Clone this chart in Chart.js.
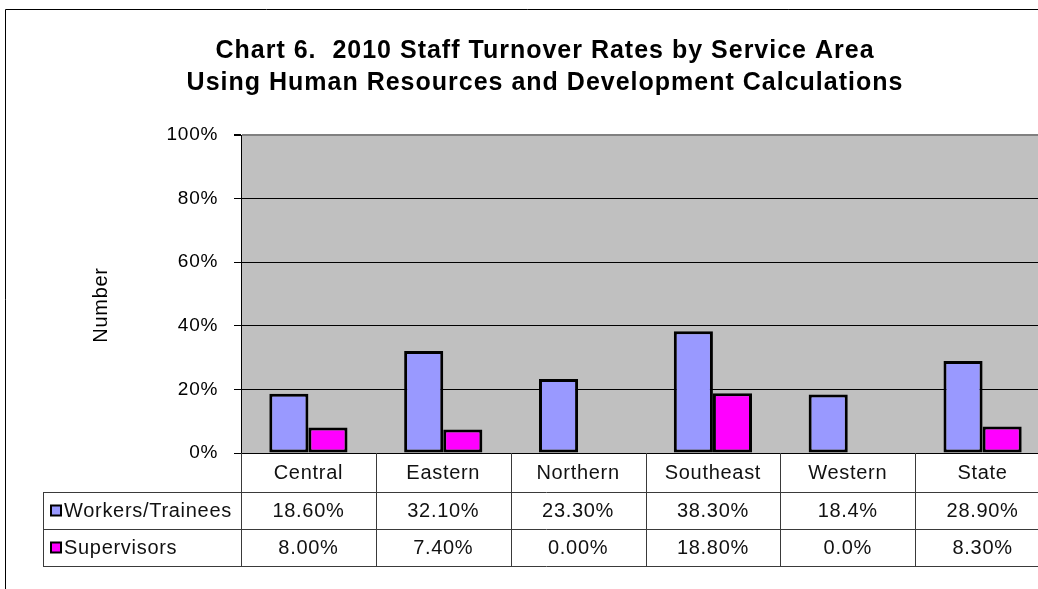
<!DOCTYPE html>
<html>
<head>
<meta charset="utf-8">
<style>
  html, body { margin: 0; padding: 0; background: #fff; overflow: hidden; }
  #chart { display: block; }
</style>
<script src="https://cdn.jsdelivr.net/npm/chart.js@4/dist/chart.umd.min.js"></script>
</head>
<body>
<canvas id="chart" width="1050" height="589"></canvas>
<script>
const titleLines = [
  "Chart 6.  2010 Staff Turnover Rates by Service Area",
  "Using Human Resources and Development Calculations",
];
const categories = ["Central", "Eastern", "Northern", "Southeast", "Western", "State"];
const workers = [18.6, 32.1, 23.3, 38.3, 18.4, 28.9];
const supervisors = [8.0, 7.4, 0, 18.8, 0, 8.3];
const workersText = ["18.60%", "32.10%", "23.30%", "38.30%", "18.4%", "28.90%"];
const supervisorsText = ["8.00%", "7.40%", "0.00%", "18.80%", "0.0%", "8.30%"];
const yTicks = [0, 20, 40, 60, 80, 100];
const yTitle = "Number";

const FONT = "'Liberation Sans', Arial, sans-serif";
const workerColor = "#9999FF";
const supervisorColor = "#FF00FF";

// background, title, outer frame and the data table under the plot
const decor = {
  id: "decor",
  beforeDraw(chart) {
    const { ctx, chartArea: a } = chart;
    ctx.letterSpacing = "0.7px";
    ctx.save();
    ctx.fillStyle = "#C0C0C0";
    ctx.fillRect(a.left, a.top, a.right - a.left, a.bottom - a.top);
    ctx.restore();
  },
  afterDraw(chart) {
    const { ctx, chartArea: a } = chart;
    const xs = chart.scales.x;
    ctx.save();

    // outer frame
    ctx.strokeStyle = "#000";
    ctx.lineWidth = 1;
    ctx.beginPath();
    ctx.moveTo(5.5, 589);
    ctx.lineTo(5.5, 9.5);
    ctx.lineTo(chart.width, 9.5);
    ctx.stroke();

    // title
    ctx.fillStyle = "#000";
    ctx.textAlign = "center";
    ctx.textBaseline = "middle";
    ctx.font = "bold 25px " + FONT;
    ctx.letterSpacing = "1px";
    ctx.fillText(titleLines[0], 545, 51);
    ctx.fillText(titleLines[1], 545, 83);

    // y axis title
    ctx.font = "20px " + FONT;
    ctx.letterSpacing = "0.7px";
    ctx.save();
    ctx.translate(101, 305);
    ctx.rotate(-Math.PI / 2);
    ctx.fillText(yTitle, 0, 0);
    ctx.restore();

    // data table
    const half = (xs.getPixelForValue(1) - xs.getPixelForValue(0)) / 2;
    const rowsY = [a.bottom, 492, 529, 566];
    const tableLeft = 43;
    ctx.strokeStyle = "#3a3a3a";
    ctx.lineWidth = 1;
    ctx.beginPath();
    for (let r = 1; r < rowsY.length; r++) {
      ctx.moveTo(tableLeft, rowsY[r] + 0.5);
      ctx.lineTo(chart.width, rowsY[r] + 0.5);
    }
    ctx.moveTo(tableLeft + 0.5, rowsY[1]);
    ctx.lineTo(tableLeft + 0.5, rowsY[3]);
    for (let i = 0; i <= categories.length; i++) {
      const x = Math.round(xs.getPixelForValue(i) - half) + 0.5;
      ctx.moveTo(x, rowsY[0]);
      ctx.lineTo(x, rowsY[3]);
    }
    ctx.stroke();

    ctx.fillStyle = "#111";
    ctx.textAlign = "center";
    categories.forEach((c, i) => {
      const x = xs.getPixelForValue(i);
      ctx.fillText(c, x, (rowsY[0] + rowsY[1]) / 2 + 1);
      ctx.fillText(workersText[i], x, (rowsY[1] + rowsY[2]) / 2 + 1);
      ctx.fillText(supervisorsText[i], x, (rowsY[2] + rowsY[3]) / 2 + 1);
    });

    // legend keys in the first column
    const series = [
      { label: chart.data.datasets[0].label, color: workerColor },
      { label: chart.data.datasets[1].label, color: supervisorColor },
    ];
    ctx.textAlign = "left";
    series.forEach((s, r) => {
      const cy = (rowsY[r + 1] + rowsY[r + 2]) / 2;
      ctx.fillStyle = s.color;
      ctx.fillRect(51, cy - 5, 10, 10);
      ctx.strokeStyle = "#000";
      ctx.lineWidth = 2;
      ctx.strokeRect(51, cy - 5, 10, 10);
      ctx.fillStyle = "#111";
      ctx.fillText(s.label, 64, cy + 1);
    });

    ctx.restore();
  },
};

const barBorder = (c) => (c.raw === 0 ? 0 : 3);

new Chart(document.getElementById("chart"), {
  type: "bar",
  data: {
    labels: categories,
    datasets: [
      {
        label: "Workers/Trainees",
        data: workers,
        backgroundColor: workerColor,
        borderColor: "#000",
        borderWidth: barBorder,
        borderSkipped: false,
      },
      {
        label: "Supervisors",
        data: supervisors,
        backgroundColor: supervisorColor,
        borderColor: "#000",
        borderWidth: barBorder,
        borderSkipped: false,
      },
    ],
  },
  options: {
    responsive: false,
    animation: false,
    layout: { padding: { top: 135, bottom: 136, left: 0, right: 0 } },
    datasets: { bar: { categoryPercentage: 0.58, barPercentage: 1 } },
    plugins: {
      legend: { display: false },
      title: { display: false },
      tooltip: { enabled: false },
    },
    scales: {
      x: { display: false },
      y: {
        min: 0,
        max: 100,
        afterFit(scale) {
          scale.width = 241;
        },
        afterBuildTicks(scale) {
          scale.ticks = yTicks.map((v) => ({ value: v }));
        },
        ticks: {
          padding: 16,
          color: "#000",
          font: { family: FONT, size: 19 },
          callback: (v) => v + "%",
        },
        grid: {
          color: (c) => (c.tick && c.tick.value === 100 ? "#808080" : "#000"),
          lineWidth: (c) => (c.tick && c.tick.value === 100 ? 2 : 1),
          tickColor: "#000",
          tickLength: 7,
        },
        border: { display: true, color: "#000", width: 1 },
      },
    },
  },
  plugins: [decor],
});
</script>
</body>
</html>
